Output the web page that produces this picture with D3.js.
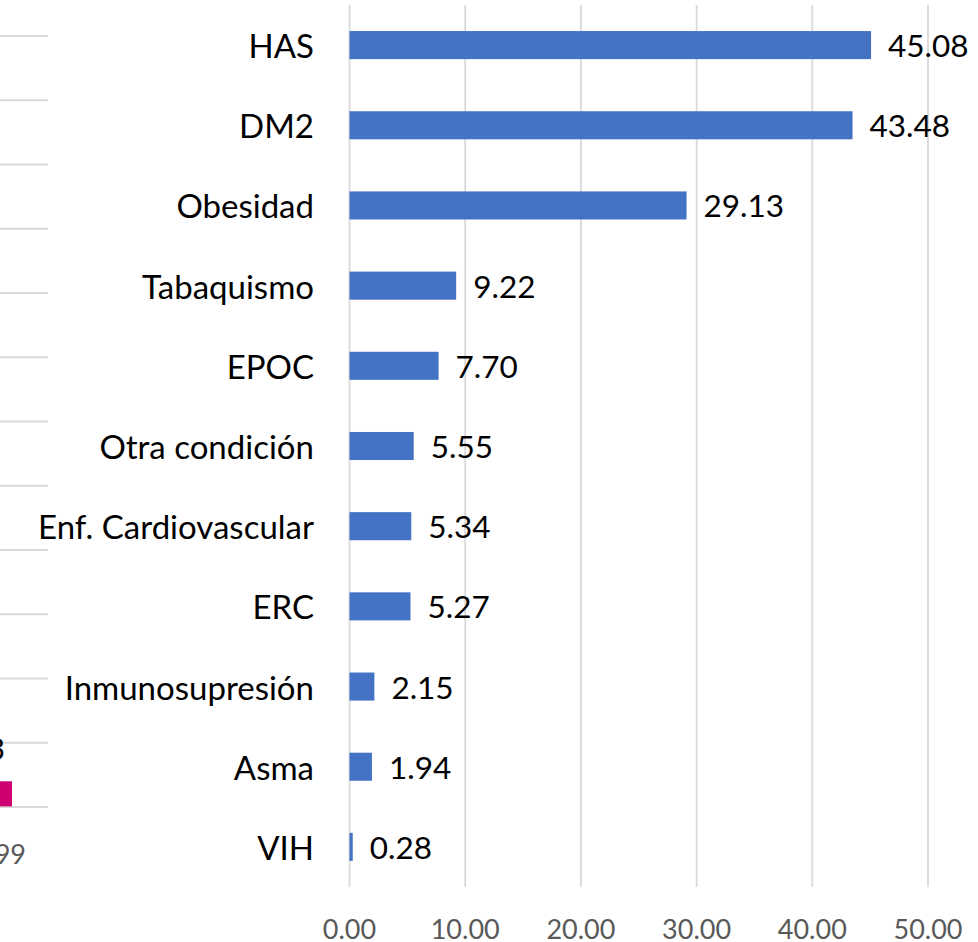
<!DOCTYPE html>
<html>
<head>
<meta charset="utf-8">
<script src="https://cdn.jsdelivr.net/npm/d3@7"></script>
<style>
  html, body { margin: 0; padding: 0; background: #ffffff; }
  svg { display: block; }
  text { font-family: Lato, "Open Sans", sans-serif; }
</style>
</head>
<body>
<svg id="chart" width="978" height="942"></svg>
<script>
// ---- Data ----
const categories = ["HAS", "DM2", "Obesidad", "Tabaquismo", "EPOC", "Otra condición",
  "Enf. Cardiovascular", "ERC", "Inmunosupresión", "Asma", "VIH"];
const values = [45.08, 43.48, 29.13, 9.22, 7.70, 5.55, 5.34, 5.27, 2.15, 1.94, 0.28];
const xTicks = [0, 10, 20, 30, 40, 50];

// Fragment of a neighbouring chart visible at the left edge
const leftRows = d3.range(12);            // 12 band rows, separated by gridlines
const leftBarValue = [0.99];               // magenta bar visible in the last row
const leftLabelText = ["3"];               // partially visible value label
const leftTickText = ["0.99"];             // partially visible axis label

const svg = d3.select("#chart");

// ---- Main chart scales ----
const x = d3.scaleLinear().domain([0, 50]).range([349.5, 928]);
const y = d3.scaleBand().domain(categories).range([5, 887])
  .paddingInner(0.65).paddingOuter(0.325);

// Vertical gridlines
svg.append("g").selectAll("line").data(xTicks).join("line")
  .attr("x1", d => x(d)).attr("x2", d => x(d))
  .attr("y1", 5).attr("y2", 887)
  .attr("stroke", "#d9d9d9").attr("stroke-width", 1.8);

// Bars
svg.append("g").selectAll("rect").data(values).join("rect")
  .attr("x", x(0))
  .attr("y", (d, i) => y(categories[i]))
  .attr("width", d => x(d) - x(0))
  .attr("height", y.bandwidth())
  .attr("fill", "#4472c4");

// Category labels
svg.append("g").selectAll("text").data(categories).join("text")
  .attr("x", 314)
  .attr("y", d => y(d) + y.bandwidth() / 2)
  .attr("text-anchor", "end")
  .attr("dominant-baseline", "central")
  .attr("font-size", 33)
  .attr("fill", "#000")
  .text(d => d);

// Value labels
svg.append("g").selectAll("text").data(values).join("text")
  .attr("x", d => x(d) + 17)
  .attr("y", (d, i) => y(categories[i]) + y.bandwidth() / 2)
  .attr("dominant-baseline", "central")
  .attr("font-size", 31.5)
  .attr("fill", "#000")
  .text(d => d.toFixed(2));

// X axis tick labels
svg.append("g").selectAll("text").data(xTicks).join("text")
  .attr("x", d => x(d))
  .attr("y", 928)
  .attr("text-anchor", "middle")
  .attr("dominant-baseline", "central")
  .attr("font-size", 27)
  .attr("fill", "#595959")
  .text(d => d.toFixed(2));

// ---- Left fragment (neighbouring chart, cut by the frame) ----
const ly = d3.scaleBand().domain(leftRows).range([36, 807]);
const lx = d3.scaleLinear().domain([0, 0.99]).range([-1200, 12]);
const lg = svg.append("g");
lg.selectAll("line").data(d3.range(13)).join("line")
  .attr("x1", 0).attr("x2", 48)
  .attr("y1", d => 36 + d * ly.step()).attr("y2", d => 36 + d * ly.step())
  .attr("stroke", "#d9d9d9").attr("stroke-width", 1.8);
lg.selectAll("rect").data(leftBarValue).join("rect")
  .attr("x", lx(0)).attr("width", d => lx(d) - lx(0))
  .attr("y", ly(11) + ly.bandwidth() * 0.6).attr("height", ly.bandwidth() * 0.39)
  .attr("fill", "#cf0072");
lg.selectAll("text.lab").data(leftLabelText).join("text").attr("class", "lab")
  .attr("x", 5).attr("y", 748)
  .attr("text-anchor", "end").attr("dominant-baseline", "central")
  .attr("font-size", 31).attr("fill", "#000").text(d => d);
lg.selectAll("text.tick").data(leftTickText).join("text").attr("class", "tick")
  .attr("x", 26).attr("y", 853)
  .attr("text-anchor", "end").attr("dominant-baseline", "central")
  .attr("font-size", 27).attr("fill", "#595959").text(d => d);
</script>
</body>
</html>
